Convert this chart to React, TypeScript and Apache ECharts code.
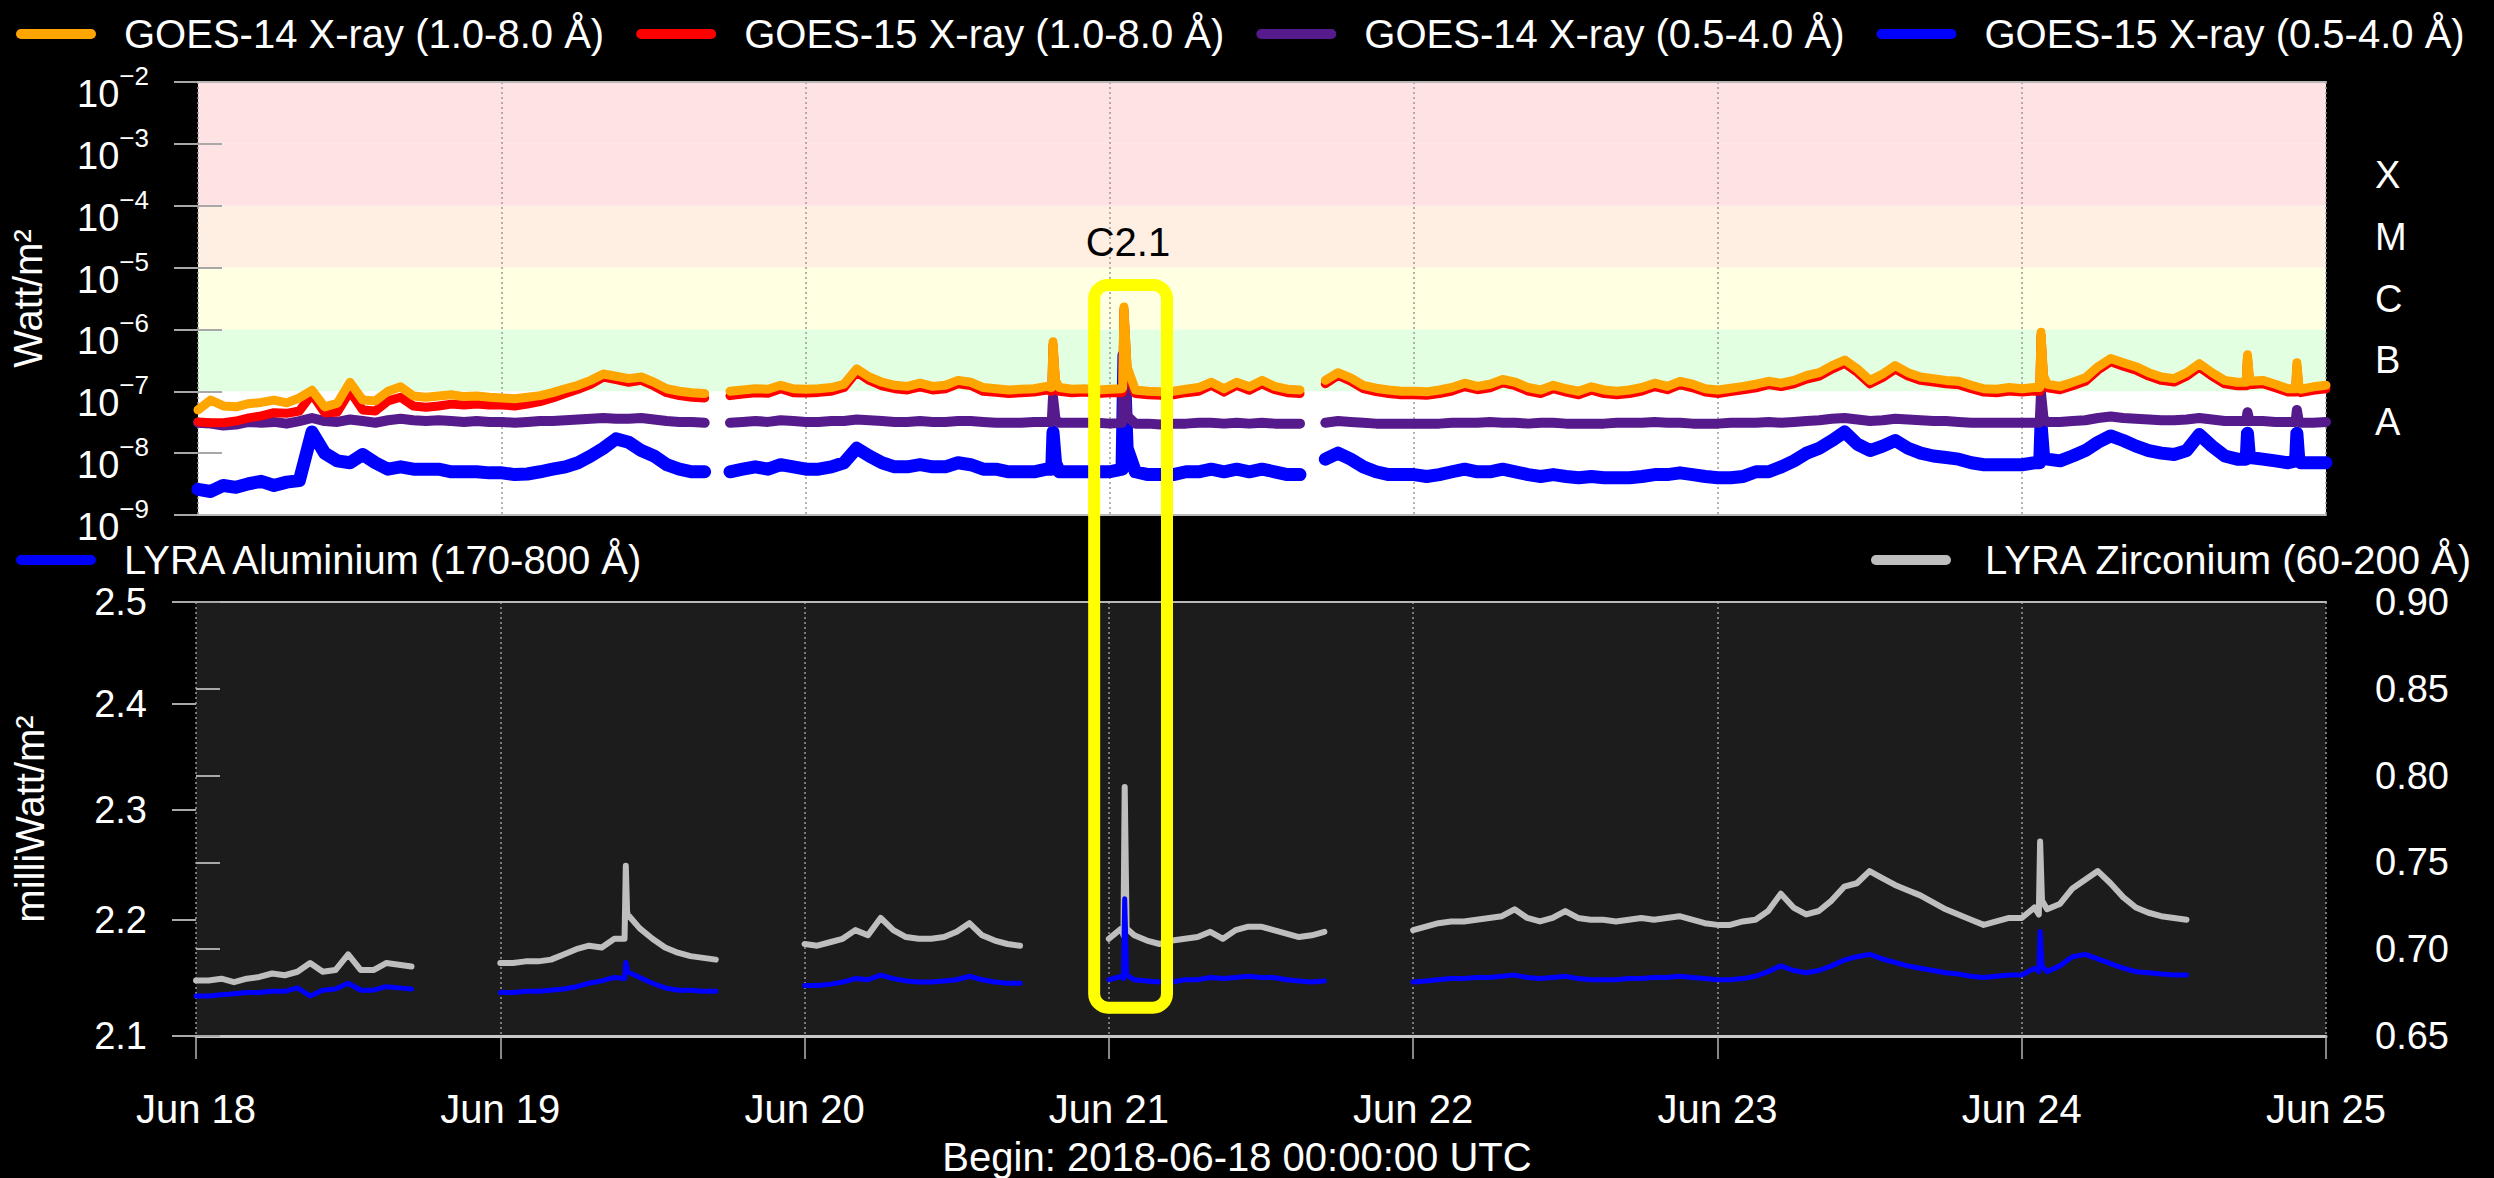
import React, { useEffect, useRef } from 'react';
import * as echarts from 'echarts';

const FONT = 'Liberation Sans, Arial, Helvetica, sans-serif';

// ---------- axis labels ----------
const dayLabels = ['Jun 18', 'Jun 19', 'Jun 20', 'Jun 21', 'Jun 22', 'Jun 23', 'Jun 24', 'Jun 25'];
const classLabels = ['', 'A', 'B', 'C', 'M', 'X', ''];
const bandColors = ['#FFFFFF', '#FFFFFF', '#E2FFE2', '#FFFFE2', '#FFEEE2', '#FFE2E4', '#FFE2E4'];
const alTicks = [2.1, 2.2, 2.3, 2.4, 2.5];
const zrMin = 0.65;
const zrMax = 0.9;
const fluxMin = 1e-9;
const fluxMax = 1e-2;

// ---------- series names ----------
const N14L = 'GOES-14 X-ray (1.0-8.0 Å)';
const N15L = 'GOES-15 X-ray (1.0-8.0 Å)';
const N14S = 'GOES-14 X-ray (0.5-4.0 Å)';
const N15S = 'GOES-15 X-ray (0.5-4.0 Å)';
const NAL = 'LYRA Aluminium (170-800 Å)';
const NZR = 'LYRA Zirconium (60-200 Å)';

// ---------- GOES, hourly from 2018-06-18 00:00 UTC (h = 0..168), nW/m² ----------
const goes14Long = [
  50, 72, 58, 56, 63, 66, 72, 65, 78, 104, 56, 64, 140, 72, 70, 100, 118, 84, 80, 84, 88, 82, 84, 80,
  78, 76, 80, 85, 95, 110, 125, 150, 190, 175, 160, 170, 140, 110, 100, 95, 92, null, 100, 105, 110, 108, 125, 110,
  108, 110, 115, 130, 230, 170, 140, 125, 120, 135, 120, 125, 150, 140, 115, 110, 105, 108, 110, 120, 115, 108, 110, 105,
  108, 115, 105, 100, 98, 100, 108, 115, 140, 110, 140, 118, 150, 120, 108, 105, null, 150, 200, 165, 125, 112, 105, 100,
  100, 98, 105, 115, 135, 120, 130, 155, 140, 115, 105, 125, 110, 100, 118, 105, 100, 105, 115, 135, 120, 145, 130, 110,
  105, 112, 120, 130, 145, 135, 150, 180, 200, 260, 320, 230, 150, 190, 260, 200, 170, 160, 150, 145, 125, 110, 108, 115,
  110, 115, 130, 120, 140, 165, 250, 340, 290, 250, 200, 170, 160, 200, 280, 200, 150, 140, 145, 150, 130, 110, 108, 118, 125,
];
const goes15Long = [
  32, 31, 31, 33, 37, 40, 45, 44, 48, 90, 45, 46, 100, 50, 48, 70, 80, 58, 55, 58, 62, 60, 62, 60,
  60, 58, 62, 68, 78, 92, 108, 130, 170, 155, 140, 150, 122, 95, 85, 80, 78, null, 85, 90, 95, 93, 110, 95,
  94, 96, 100, 115, 205, 150, 122, 110, 105, 118, 105, 110, 132, 124, 100, 96, 92, 95, 97, 105, 100, 95, 97, 92,
  95, 100, 92, 88, 86, 88, 95, 100, 125, 97, 125, 104, 132, 106, 95, 92, null, 132, 180, 146, 110, 99, 92, 88,
  88, 86, 92, 101, 119, 106, 114, 137, 123, 101, 92, 110, 97, 88, 104, 92, 88, 92, 101, 119, 106, 128, 114, 97,
  92, 99, 106, 114, 128, 119, 132, 158, 176, 229, 282, 202, 132, 167, 229, 176, 150, 141, 132, 128, 110, 97, 95, 101,
  97, 101, 114, 106, 123, 145, 220, 300, 255, 220, 176, 150, 141, 176, 246, 176, 132, 123, 128, 132, 114, 97, 95, 104, 110,
];
const goes14Short = [
  31, 30, 28, 29, 32, 31, 32, 30, 33, 37, 33, 32, 35, 33, 31, 34, 36, 34, 33, 34, 33, 32, 33, 32,
  32, 31, 32, 33, 33, 34, 35, 36, 37, 36, 36, 37, 35, 33, 32, 32, 31, null, 31, 32, 33, 32, 34, 33,
  32, 32, 33, 33, 35, 34, 33, 32, 32, 33, 32, 32, 33, 33, 32, 31, 31, 31, 32, 32, 31, 31, 31, 31,
  30, 31, 30, 30, 29, 30, 30, 31, 31, 30, 31, 30, 31, 30, 30, 30, null, 31, 33, 32, 31, 30, 30, 30,
  30, 30, 30, 31, 31, 31, 32, 31, 31, 30, 31, 31, 30, 30, 30, 30, 31, 31, 31, 32, 31, 31, 30, 30,
  30, 31, 31, 31, 32, 31, 32, 33, 34, 36, 37, 35, 33, 34, 36, 35, 34, 33, 33, 32, 31, 31, 31, 31,
  31, 31, 32, 32, 33, 34, 37, 39, 37, 36, 35, 34, 34, 35, 37, 35, 33, 33, 33, 33, 32, 32, 31, 31, 32,
];
const goes15Short = [
  2.6, 2.4, 3.0, 2.8, 3.2, 3.5, 3.0, 3.4, 3.6, 22, 10, 7.5, 7, 9.5, 7, 5.5, 6, 5.5, 5.5, 5.5, 5, 5, 5, 4.8,
  4.8, 4.5, 4.6, 5, 5.5, 6, 7, 9, 12, 17, 15, 11, 9, 6.5, 5.5, 5, 5, null, 5, 5.5, 6, 5.5, 6.5, 6,
  5.5, 5.5, 6, 7, 12, 9, 7, 6, 6, 6.5, 6, 6, 7, 6.5, 5.5, 5.5, 5, 5, 5, 5.5, 5, 5, 5, 5,
  5, 5.5, 5, 4.5, 4.5, 4.5, 5, 5, 5.5, 5, 5.5, 5, 5.5, 5, 4.5, 4.5, null, 8, 10, 8, 6, 5, 4.5, 4.5,
  4.5, 4.2, 4.5, 5, 5.5, 5, 5, 5.5, 5, 4.5, 4.2, 4.5, 4.2, 4, 4.2, 4, 4, 4, 4.2, 4.5, 4.5, 4.8, 4.5, 4.2,
  4, 4, 4.2, 5, 5, 6, 7.5, 10, 12, 16, 22, 14, 11, 13, 16, 12, 10, 9, 8.5, 8, 7, 6.5, 6.5, 6.5,
  6.5, 7, 8, 7.5, 9, 11, 15, 19, 16, 13, 11, 10, 9.5, 11, 20, 13, 9, 8, 8.5, 8, 7.5, 7, 7, 7, 7,
];
// short-lived flare events: (onset, peak, after) hours and nW/m² readings
const goesSpikeHours = [67.4, 67.5, 67.7, 72.95, 73.1, 73.35, 145.4, 145.5, 145.7, 161.7, 161.8, 161.95, 165.6, 165.7, 165.85];
const goes14LongSpikes = [115, 630, 150, 110, 2300, 250, 115, 900, 180, 140, 390, 170, 110, 290, 130];
const goes15LongSpikes = [100, 560, 130, 95, 2100, 220, 100, 800, 160, 123, 340, 150, 97, 250, 110];
const goes14ShortSpikes = [32, 81, 35, 31, 400, 40, 31, 95, 36, 33, 46, 34, 32, 50, 33];
const goes15ShortSpikes = [5.5, 22, 7, 5.5, 380, 12, 7, 30, 9, 8, 21, 9, 7.5, 21, 8];

// ---------- LYRA, hourly (h = 0..168), mW/m² ----------
const lyraAl = [
  2.134, 2.134, 2.135, 2.136, 2.137, 2.137, 2.138, 2.138, 2.141, 2.134, 2.139, 2.140, 2.145, 2.139, 2.139, 2.142, 2.141, 2.140,
  null, null, null, null, null, null,
  2.137, 2.137, 2.138, 2.138, 2.139, 2.140, 2.142, 2.145, 2.147, 2.150, 2.158, 2.150, 2.145, 2.141, 2.139, 2.139, 2.138, 2.138,
  null, null, null, null, null, null,
  2.143, 2.143, 2.144, 2.146, 2.149, 2.148, 2.152, 2.149, 2.147, 2.146, 2.146, 2.147, 2.148, 2.151, 2.148, 2.146, 2.145, 2.145,
  null, null, null, null, null, null,
  2.148, 2.151, 2.148, 2.147, 2.146, 2.146, 2.148, 2.148, 2.150, 2.149, 2.150, 2.151, 2.150, 2.150, 2.148, 2.147, 2.146, 2.147,
  null, null, null, null, null, null,
  2.146, 2.147, 2.148, 2.149, 2.149, 2.150, 2.150, 2.151, 2.152, 2.150, 2.149, 2.150, 2.151, 2.149, 2.148, 2.148, 2.148, 2.149, 2.149, 2.150, 2.150, 2.151, 2.150, 2.149,
  2.148, 2.148, 2.149, 2.151, 2.155, 2.160, 2.156, 2.154, 2.156, 2.160, 2.165, 2.168, 2.170, 2.166, 2.163, 2.160, 2.158, 2.156, 2.154, 2.153, 2.151, 2.150, 2.151, 2.152,
  2.152, 2.158, 2.155, 2.160, 2.168, 2.170, 2.166, 2.162, 2.158, 2.155, 2.154, 2.153, 2.152, 2.152,
  null, null, null, null, null, null, null, null, null, null, null,
];
const lyraZr = [
  0.682, 0.682, 0.683, 0.681, 0.683, 0.684, 0.686, 0.685, 0.687, 0.692, 0.687, 0.688, 0.697, 0.688, 0.688, 0.692, 0.691, 0.690,
  null, null, null, null, null, null,
  0.692, 0.692, 0.693, 0.693, 0.694, 0.697, 0.700, 0.702, 0.701, 0.706, 0.722, 0.712, 0.706, 0.701, 0.698, 0.696, 0.695, 0.694,
  null, null, null, null, null, null,
  0.703, 0.702, 0.704, 0.706, 0.711, 0.708, 0.718, 0.711, 0.707, 0.706, 0.706, 0.707, 0.710, 0.715, 0.708, 0.705, 0.703, 0.702,
  null, null, null, null, null, null,
  0.706, 0.712, 0.708, 0.705, 0.703, 0.705, 0.706, 0.707, 0.710, 0.706, 0.711, 0.713, 0.713, 0.711, 0.709, 0.707, 0.708, 0.710,
  null, null, null, null, null, null,
  0.711, 0.713, 0.715, 0.716, 0.716, 0.717, 0.718, 0.719, 0.723, 0.718, 0.716, 0.718, 0.722, 0.718, 0.717, 0.717, 0.716, 0.717, 0.718, 0.717, 0.718, 0.719, 0.717, 0.715,
  0.714, 0.714, 0.716, 0.717, 0.722, 0.732, 0.724, 0.720, 0.722, 0.728, 0.736, 0.738, 0.745, 0.741, 0.737, 0.734, 0.731, 0.727, 0.723, 0.720, 0.717, 0.714, 0.716, 0.718,
  0.718, 0.724, 0.723, 0.726, 0.735, 0.740, 0.745, 0.738, 0.730, 0.724, 0.721, 0.719, 0.718, 0.717,
  null, null, null, null, null, null, null, null, null, null, null,
];
const lyraSpikeHours = [33.8, 33.9, 34.05, 73.15, 73.25, 73.4, 145.35, 145.45, 145.6];
const lyraAlSpikes = [2.149, 2.163, 2.155, 2.149, 2.219, 2.152, 2.155, 2.19, 2.16];
const lyraZrSpikes = [0.706, 0.748, 0.72, 0.708, 0.7935, 0.712, 0.72, 0.762, 0.728];

// ---------- flare annotation ----------
const flareLabel = 'C2.1';
const flareHour = 73.1;
const flarePeak = 2.1e-6;
const boxStartHour = 70.75;
const boxEndHour = 76.5;
const boxTopFlux = 5.25e-6;
const boxBottomAl = 2.124;

type Pt = [number, number | string];
function buildSeries(
  base: (number | null)[],
  spikeT: number[],
  spikeV: number[],
  map: (v: number) => number,
): Pt[] {
  const pts: Pt[] = base.map((v, h) => [h, v == null ? '-' : map(v)] as Pt);
  spikeT.forEach((t, i) => pts.push([t, map(spikeV[i])]));
  pts.sort((a, b) => a[0] - b[0]);
  return pts;
}
const nano = (v: number) => v * 1e-9;
const lg = (v: number) => Math.log10(v);
const ident = (v: number) => v;

const LEGEND_ICON = 'path://M5 0 L75 0 A5 5 0 0 1 75 10 L5 10 A5 5 0 0 1 5 0 Z';
const GRID_LINE = { color: '#9A9A9A', width: 1.5, type: [2, 3] as number[] };
const TICK_LINE = { color: '#A8A8A8', width: 2 };
const BORDER_LINE = { color: '#B8B8B8', width: 2 };

function lineSeries(name: string, data: Pt[], color: string, width: number, xi: number, yi: number, z: number) {
  return {
    name,
    type: 'line',
    xAxisIndex: xi,
    yAxisIndex: yi,
    data,
    symbol: 'none',
    showSymbol: false,
    connectNulls: false,
    z,
    itemStyle: { color },
    lineStyle: { color, width, join: 'round', cap: 'round' },
    emphasis: { disabled: true },
  };
}

export default function App() {
  const ref = useRef<HTMLDivElement>(null);

  useEffect(() => {
    document.body.style.margin = '0';
    document.body.style.background = '#000';
    const el = ref.current!;
    const chart = echarts.init(el, null, { renderer: 'svg' });

    const dayAxis = { type: 'value', min: 0, max: 168, interval: 24 };
    const legendBase = {
      padding: 0,
      itemWidth: 80,
      itemHeight: 10,
      icon: LEGEND_ICON,
      selectedMode: false,
      orient: 'horizontal',
    };

    const option: any = {
      backgroundColor: '#000000',
      animation: false,
      textStyle: { fontFamily: FONT },
      legend: [
        {
          ...legendBase,
          left: 16,
          top: 14,
          itemGap: 32,
          data: [N14L, N15L, N14S, N15S],
          textStyle: { color: '#FFFFFF', fontSize: 40, fontFamily: FONT, padding: [0, 0, 0, 23] },
        },
        {
          ...legendBase,
          left: 16,
          top: 540,
          data: [NAL],
          textStyle: { color: '#FFFFFF', fontSize: 40, fontFamily: FONT, padding: [0, 0, 0, 23] },
        },
        {
          ...legendBase,
          left: 1871,
          top: 540,
          data: [NZR],
          textStyle: { color: '#FFFFFF', fontSize: 40, fontFamily: FONT, padding: [0, 0, 0, 29] },
        },
      ],
      grid: [
        { left: 196, top: 82, width: 2130, height: 433, show: true, backgroundColor: '#FFFFFF', borderWidth: 0 },
        { left: 196, top: 602, width: 2130, height: 435, show: true, backgroundColor: '#1C1C1C', borderWidth: 0 },
      ],
      xAxis: [
        {
          ...dayAxis,
          gridIndex: 0,
          position: 'bottom',
          z: 1,
          axisLine: { show: true, onZero: false, lineStyle: BORDER_LINE },
          axisTick: { show: false },
          axisLabel: { show: false },
          splitLine: { show: true, lineStyle: GRID_LINE },
        },
        {
          ...dayAxis,
          gridIndex: 0,
          position: 'top',
          z: 1,
          axisLine: { show: true, onZero: false, lineStyle: BORDER_LINE },
          axisTick: { show: false },
          axisLabel: { show: false },
          splitLine: { show: false },
        },
        {
          ...dayAxis,
          gridIndex: 1,
          position: 'bottom',
          axisLine: { show: true, onZero: false, lineStyle: { color: '#C8C8C8', width: 3 } },
          axisTick: { show: true, length: 23, lineStyle: { color: '#B4B4B4', width: 1.5 } },
          axisLabel: {
            show: true,
            color: '#FFFFFF',
            fontSize: 40,
            fontFamily: FONT,
            margin: 53,
            formatter: (v: number) => dayLabels[Math.round(v / 24)] ?? '',
          },
          splitLine: { show: true, lineStyle: GRID_LINE },
          name: 'Begin: 2018-06-18 00:00:00 UTC',
          nameLocation: 'middle',
          nameGap: 101,
          nameTextStyle: { color: '#FFFFFF', fontSize: 40, fontFamily: FONT, padding: [0, 48, 0, 0] },
        },
        {
          ...dayAxis,
          gridIndex: 1,
          position: 'top',
          axisLine: { show: true, onZero: false, lineStyle: BORDER_LINE },
          axisTick: { show: false },
          axisLabel: { show: false },
          splitLine: { show: false },
        },
      ],
      yAxis: [
        {
          type: 'log',
          logBase: 10,
          gridIndex: 0,
          min: fluxMin,
          max: fluxMax,
          interval: 1,
          position: 'left',
          axisLine: { show: false },
          axisTick: { show: true, length: 24, lineStyle: TICK_LINE },
          splitLine: { show: false },
          axisLabel: {
            margin: 49,
            padding: [12, 0, 0, 0],
            formatter: (v: number) => {
              const e = Math.round(Math.log10(v));
              return `{b|10}{s|\u2212${-e}}`;
            },
            rich: {
              b: { fontSize: 38, color: '#FFFFFF', lineHeight: 50, verticalAlign: 'bottom', fontFamily: FONT },
              s: { fontSize: 26, color: '#FFFFFF', lineHeight: 20, verticalAlign: 'top', fontFamily: FONT },
            },
          },
          name: 'Watt/m²',
          nameLocation: 'middle',
          nameGap: 150,
          nameRotate: 90,
          nameTextStyle: { color: '#FFFFFF', fontSize: 40, fontFamily: FONT },
        },
        {
          type: 'category',
          gridIndex: 0,
          position: 'right',
          data: classLabels,
          z: 0,
          axisLine: { show: false },
          axisTick: { show: true, length: 24, interval: 0, lineStyle: TICK_LINE },
          axisLabel: { show: true, interval: 0, color: '#FFFFFF', fontSize: 38, fontFamily: FONT, margin: 49 },
          splitLine: { show: false },
          splitArea: { show: true, interval: 0, areaStyle: { color: bandColors } },
        },
        {
          type: 'value',
          gridIndex: 1,
          min: lg(alTicks[0]),
          max: lg(alTicks[alTicks.length - 1]),
          position: 'left',
          axisLine: { show: false },
          axisTick: { show: true, length: 24, lineStyle: TICK_LINE, customValues: alTicks.map(lg) },
          axisLabel: {
            show: true,
            customValues: alTicks.map(lg),
            color: '#FFFFFF',
            fontSize: 38,
            fontFamily: FONT,
            margin: 49,
            formatter: (v: number) => Math.pow(10, v).toFixed(1),
          },
          splitLine: { show: false },
          name: 'milliWatt/m²',
          nameLocation: 'middle',
          nameGap: 146,
          nameRotate: 90,
          nameTextStyle: { color: '#FFFFFF', fontSize: 40, fontFamily: FONT },
        },
        {
          type: 'value',
          gridIndex: 1,
          min: zrMin,
          max: zrMax,
          interval: 0.05,
          position: 'right',
          axisLine: { show: false },
          axisTick: { show: true, length: 24, lineStyle: TICK_LINE },
          axisLabel: {
            show: true,
            color: '#FFFFFF',
            fontSize: 38,
            fontFamily: FONT,
            margin: 49,
            formatter: (v: number) => v.toFixed(2),
          },
          splitLine: { show: false },
        },
      ],
      series: [
        lineSeries(N15S, buildSeries(goes15Short, goesSpikeHours, goes15ShortSpikes, nano), '#0000FF', 13, 0, 0, 2),
        lineSeries(N14S, buildSeries(goes14Short, goesSpikeHours, goes14ShortSpikes, nano), '#551A8B', 10, 0, 0, 3),
        {
          ...lineSeries(N15L, buildSeries(goes15Long, goesSpikeHours, goes15LongSpikes, nano), '#FF0000', 9, 0, 0, 4),
          markPoint: {
            silent: true,
            symbol: 'circle',
            symbolSize: 1,
            itemStyle: { color: 'rgba(0,0,0,0)' },
            label: {
              show: true,
              formatter: flareLabel,
              color: '#000000',
              fontSize: 40,
              fontFamily: FONT,
              offset: [4, -67],
            },
            data: [{ coord: [flareHour, flarePeak] }],
          },
        },
        lineSeries(N14L, buildSeries(goes14Long, goesSpikeHours, goes14LongSpikes, nano), '#FFA500', 9, 0, 0, 5),
        lineSeries(NZR, buildSeries(lyraZr, lyraSpikeHours, lyraZrSpikes, ident), '#BEBEBE', 6, 2, 3, 3),
        lineSeries(NAL, buildSeries(lyraAl, lyraSpikeHours, lyraAlSpikes, lg), '#0000FF', 5, 2, 2, 4),
      ],
    };

    chart.setOption(option);

    const x0 = chart.convertToPixel({ xAxisIndex: 0 } as any, boxStartHour) as unknown as number;
    const x1 = chart.convertToPixel({ xAxisIndex: 0 } as any, boxEndHour) as unknown as number;
    const y0 = chart.convertToPixel({ yAxisIndex: 0 } as any, boxTopFlux) as unknown as number;
    const y1 = chart.convertToPixel({ yAxisIndex: 2 } as any, lg(boxBottomAl)) as unknown as number;
    chart.setOption({
      graphic: [
        {
          type: 'rect',
          z: 100,
          silent: true,
          shape: { x: x0, y: y0, width: x1 - x0, height: y1 - y0, r: 14 },
          style: { fill: 'none', stroke: '#FFFF00', lineWidth: 12 },
        },
      ],
    });

    return () => chart.dispose();
  }, []);

  return (
    <div
      ref={ref}
      style={{ position: 'fixed', left: 0, top: 0, width: 2494, height: 1178, background: '#000' }}
    />
  );
}
